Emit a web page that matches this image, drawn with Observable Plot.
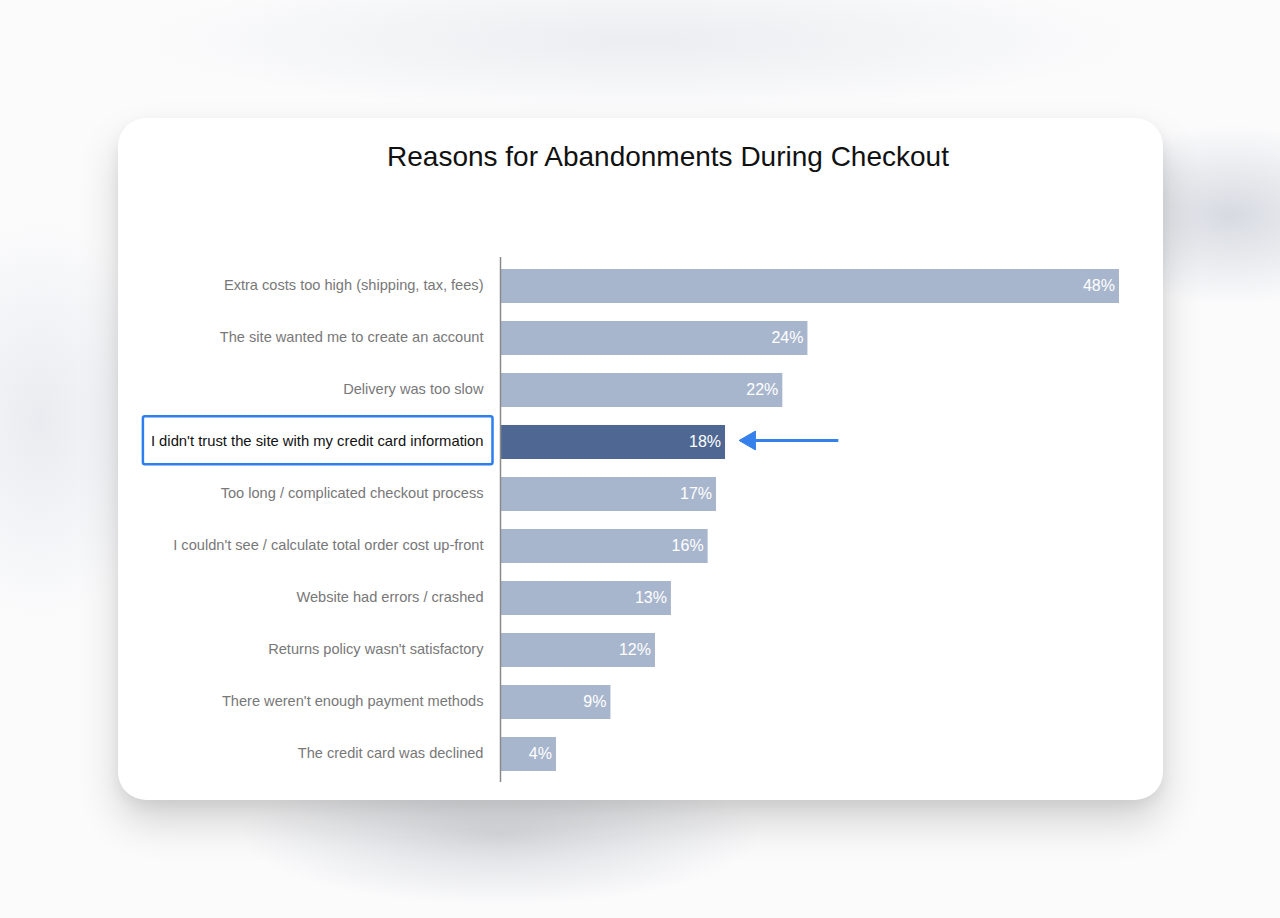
<!DOCTYPE html>
<html>
<head>
<meta charset="utf-8">
<script src="https://cdn.jsdelivr.net/npm/d3@7"></script>
<script src="https://cdn.jsdelivr.net/npm/@observablehq/plot@0.6"></script>
<style>
  html, body { margin: 0; padding: 0; }
  body {
    width: 1280px; height: 918px; position: relative; overflow: hidden;
    background:
      radial-gradient(ellipse 160px 90px at 1230px 215px, rgba(170,178,192,0.45), rgba(170,178,192,0) 100%),
      radial-gradient(ellipse 260px 70px at 500px 835px, rgba(150,155,165,0.35), rgba(150,155,165,0) 100%),
      radial-gradient(ellipse 500px 70px at 640px 40px, rgba(225,228,232,0.6), rgba(225,228,232,0) 100%),
      radial-gradient(ellipse 120px 200px at 40px 420px, rgba(215,220,228,0.5), rgba(215,220,228,0) 100%),
      #fbfbfc;
    font-family: "Liberation Sans", Arial, Helvetica, sans-serif;
  }
  #card {
    position: absolute; left: 118px; top: 118px; width: 1045px; height: 682px;
    background: #fff; border-radius: 28px;
    box-shadow: 0 22px 40px rgba(0,0,0,0.16), 0 6px 14px rgba(0,0,0,0.06);
  }
  #title {
    position: absolute; left: 550px; top: 25px; transform: translateX(-50%);
    font-size: 28px; line-height: 28px; color: #111; white-space: nowrap;
  }
  #chart { position: absolute; left: 0; top: 112px; }
</style>
</head>
<body>
<div id="card">
  <div id="title">Reasons for Abandonments During Checkout</div>
  <div id="chart"></div>
</div>
<script>
const categories = [
  "Extra costs too high (shipping, tax, fees)",
  "The site wanted me to create an account",
  "Delivery was too slow",
  "I didn't trust the site with my credit card information",
  "Too long / complicated checkout process",
  "I couldn't see / calculate total order cost up-front",
  "Website had errors / crashed",
  "Returns policy wasn't satisfactory",
  "There weren't enough payment methods",
  "The credit card was declined"
];
// bar lengths as measured in the picture
const values = [48, 23.8, 21.85, 17.4, 16.7, 16.05, 13.2, 11.96, 8.5, 4.27];
// value labels as printed on the bars
const valueLabels = ["48%", "24%", "22%", "18%", "17%", "16%", "13%", "12%", "9%", "4%"];
const highlight = "I didn't trust the site with my credit card information";
const arrowTail = 26.2;
const arrowHead = 19.3;

const data = categories.map((c, i) => ({category: c, value: values[i], label: valueLabels[i]}));
const arrowData = [{category: highlight, x1: arrowTail, x2: arrowHead}];

const barColor = "#a8b6cd";
const hiColor = "#4e6893";
const arrowColor = "#3580ea";

const chart = Plot.plot({
  width: 1045,
  height: 570,
  marginLeft: 382,
  marginRight: 44,
  marginTop: 27,
  marginBottom: 18,
  style: {fontFamily: "Liberation Sans, Arial, sans-serif", background: "transparent"},
  x: {domain: [0, 48], range: [383, 1001], axis: null},
  y: {domain: categories, paddingInner: 0.35, paddingOuter: 0.19, axis: null},
  marks: [
    Plot.barX(data, {
      y: "category", x: "value",
      fill: d => d.category === highlight ? hiColor : barColor
    }),
    Plot.ruleX([0], {stroke: "#8a8a8a", strokeWidth: 1.5, dx: -1}),
    Plot.text(data, {
      y: "category", x: "value", text: "label",
      textAnchor: "end", dx: -4.5, dy: -0.5, fill: "white", fontSize: 16
    }),
    Plot.text(data, {
      y: "category", x: 0, text: "category",
      textAnchor: "end", dx: -18, dy: -1,
      fontSize: d => d.category === highlight ? 14.8 : 14.6,
      fill: d => d.category === highlight ? "#111" : "#787878"
    }),
    Plot.ruleY(arrowData, {
      y: "category", x1: "x1", x2: "x2", dy: -2, stroke: arrowColor, strokeWidth: 3
    }),
    Plot.dot(arrowData, {
      y: "category", x: "x2", dy: -2, symbol: "triangle", r: 7, rotate: -90,
      fill: arrowColor, stroke: arrowColor, strokeWidth: 1
    })
  ]
});

document.getElementById("chart").append(chart);

// outline box around the highlighted category label
const label = [...chart.querySelectorAll("text")].find(t => t.textContent === highlight);
if (label) {
  const sr = chart.getBoundingClientRect();
  const lr = label.getBoundingClientRect();
  const rect = document.createElementNS("http://www.w3.org/2000/svg", "rect");
  rect.setAttribute("x", lr.left - sr.left - 8);
  rect.setAttribute("y", lr.top - sr.top + lr.height / 2 - 25);
  rect.setAttribute("width", lr.width + 17);
  rect.setAttribute("height", 48);
  rect.setAttribute("rx", 2);
  rect.setAttribute("fill", "none");
  rect.setAttribute("stroke", "#2d7ff0");
  rect.setAttribute("stroke-width", 2.5);
  chart.append(rect);
}
</script>
</body>
</html>
